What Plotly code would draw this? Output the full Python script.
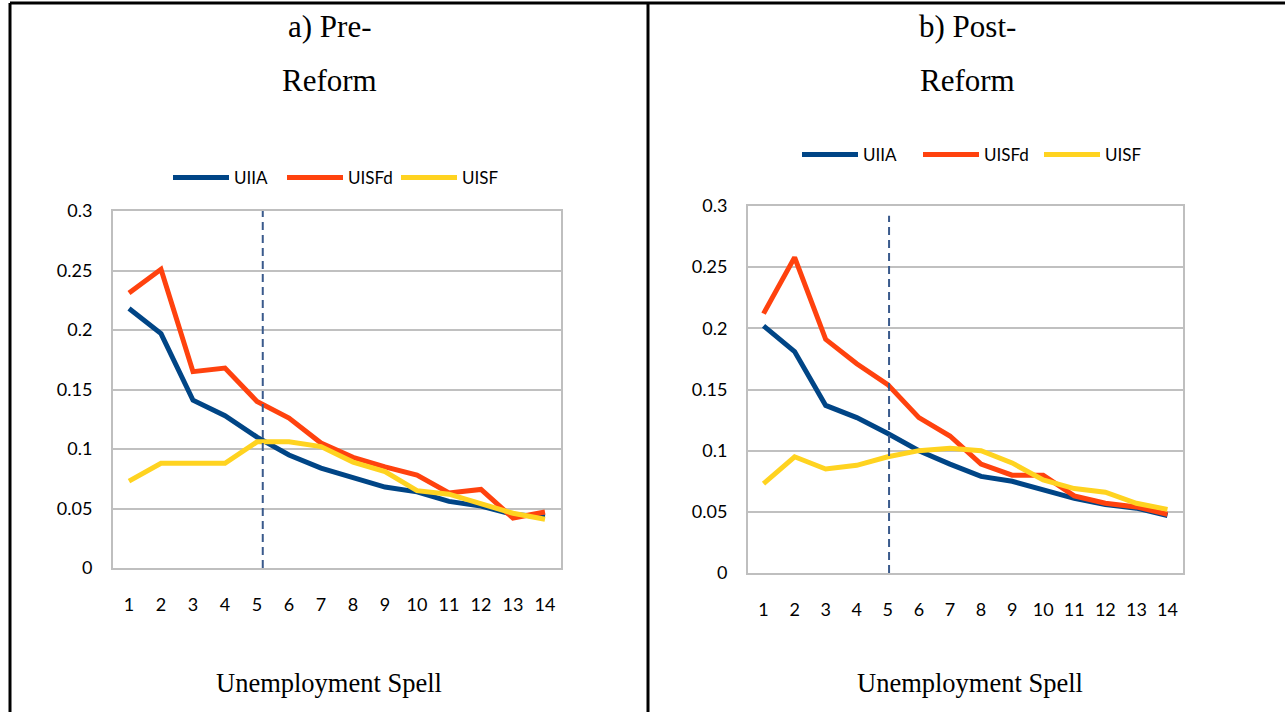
import plotly.graph_objects as go

spells = list(range(1, 15))
tick_labels = [str(s) for s in spells]
y_ticks = [0, 0.05, 0.1, 0.15, 0.2, 0.25, 0.3]
y_tick_labels = ["0", "0.05", "0.1", "0.15", "0.2", "0.25", "0.3"]

pre_uiia = [0.218, 0.197, 0.141, 0.128, 0.110, 0.095, 0.084, 0.076, 0.068, 0.064, 0.056, 0.052, 0.045, 0.043]
pre_uisfd = [0.231, 0.251, 0.165, 0.168, 0.140, 0.126, 0.105, 0.093, 0.085, 0.078, 0.063, 0.066, 0.042, 0.047]
pre_uisf = [0.073, 0.088, 0.088, 0.088, 0.106, 0.106, 0.102, 0.089, 0.081, 0.065, 0.062, 0.054, 0.046, 0.041]

post_uiia = [0.202, 0.181, 0.137, 0.127, 0.114, 0.100, 0.089, 0.079, 0.075, 0.068, 0.061, 0.056, 0.053, 0.047]
post_uisfd = [0.212, 0.258, 0.191, 0.171, 0.154, 0.127, 0.112, 0.089, 0.080, 0.080, 0.063, 0.057, 0.054, 0.048]
post_uisf = [0.073, 0.095, 0.085, 0.088, 0.095, 0.100, 0.102, 0.100, 0.090, 0.076, 0.069, 0.066, 0.057, 0.052]

series_names = ["UIIA", "UISFd", "UISF"]
series_colors = ["#004586", "#FF420E", "#FFD320"]
panel_titles = [["a) Pre-", "Reform"], ["b) Post-", "Reform"]]
x_title = "Unemployment Spell"
reform_marks = [5.18, 5.04]

W, H = 1285, 712


def px_x(v):
    return v / W


def px_y(v):
    return 1 - v / H


fig = go.Figure()

panels = [
    (pre_uiia, pre_uisfd, pre_uisf, "x", "y", "legend"),
    (post_uiia, post_uisfd, post_uisf, "x2", "y2", "legend2"),
]
for vals3, xa, ya, lg in [(p[:3], p[3], p[4], p[5]) for p in panels]:
    for name, col, vals in zip(series_names, series_colors, vals3):
        fig.add_trace(go.Scatter(
            x=spells, y=vals, name=name, mode="lines",
            line=dict(color=col, width=5),
            xaxis=xa, yaxis=ya, legend=lg, hoverinfo="skip",
        ))

axis_common = dict(
    showline=True, mirror=True, linecolor="#BFBFBF", linewidth=2,
    ticks="", zeroline=False, automargin=False,
    tickfont=dict(family="Lato, Open Sans, sans-serif", size=18, color="#000000"),
)

left = dict(x0=113, x1=561, ytop=211, ybot=568)
right = dict(x0=748, x1=1183, ytop=206, ybot=573)

for i, g in enumerate([left, right]):
    sfx = "" if i == 0 else "2"
    fig.update_layout(**{
        "xaxis" + sfx: dict(
            domain=[px_x(g["x0"]), px_x(g["x1"])], anchor="y" + sfx,
            range=[0.5, 14.5], tickvals=spells, ticktext=tick_labels,
            showgrid=False, ticklabelstandoff=19, **axis_common,
        ),
        "yaxis" + sfx: dict(
            domain=[px_y(g["ybot"]), px_y(g["ytop"])], anchor="x" + sfx,
            range=[0, 0.3], tickvals=y_ticks, ticktext=y_tick_labels,
            showgrid=True, gridcolor="#C0C0C0", gridwidth=2,
            ticklabelstandoff=15, **axis_common,
        ),
    })

dash_style = dict(color="#3A5A8C", width=2, dash="8px,5px")
fig.add_shape(type="line", xref="x", yref="y", x0=reform_marks[0], x1=reform_marks[0],
              y0=0, y1=0.3, line=dash_style)
fig.add_shape(type="line", xref="x2", yref="y2", x0=reform_marks[1], x1=reform_marks[1],
              y0=0, y1=0.292, line=dash_style)

border = dict(color="#000000", width=3)
fig.add_shape(type="line", xref="paper", yref="paper", x0=px_x(10), x1=px_x(10), y0=0, y1=px_y(3), line=border)
fig.add_shape(type="line", xref="paper", yref="paper", x0=px_x(10), x1=1, y0=px_y(3), y1=px_y(3), line=border)
fig.add_shape(type="line", xref="paper", yref="paper", x0=px_x(648), x1=px_x(648), y0=0, y1=px_y(3), line=border)

serif = dict(family="Liberation Serif, Times New Roman, serif", color="#000000")
for cx, lines in zip([329, 967], panel_titles):
    for cy, t in zip([27, 80], lines):
        fig.add_annotation(xref="paper", yref="paper", x=px_x(cx), y=px_y(cy),
                           xanchor="center", yanchor="middle",
                           text=t, showarrow=False, font=dict(size=31, **serif))
for cx in [329, 970]:
    fig.add_annotation(xref="paper", yref="paper", x=px_x(cx), y=px_y(683),
                       xanchor="center", yanchor="middle",
                       text=x_title, showarrow=False, font=dict(size=26.5, **serif))

legend_common = dict(
    orientation="h", xanchor="left", yanchor="middle",
    font=dict(family="Lato, Open Sans, sans-serif", size=17, color="#000000"),
    bgcolor="rgba(0,0,0,0)", itemwidth=56, tracegroupgap=0,
    entrywidthmode="pixels", itemclick=False, itemdoubleclick=False,
)
fig.update_layout(
    legend=dict(x=px_x(168), y=px_y(178), entrywidth=43, **legend_common),
    legend2=dict(x=px_x(797), y=px_y(155), entrywidth=50, **legend_common),
)

fig.update_layout(
    autosize=True, margin=dict(l=0, r=0, t=0, b=0, pad=0, autoexpand=False),
    paper_bgcolor="white", plot_bgcolor="white", showlegend=True,
)

fig.write_html("out.html", config={"displayModeBar": False},
               default_width="100vw", default_height="100vh",
               post_script="document.body.style.margin='0';document.body.style.overflow='hidden';window.dispatchEvent(new Event('resize'));")
